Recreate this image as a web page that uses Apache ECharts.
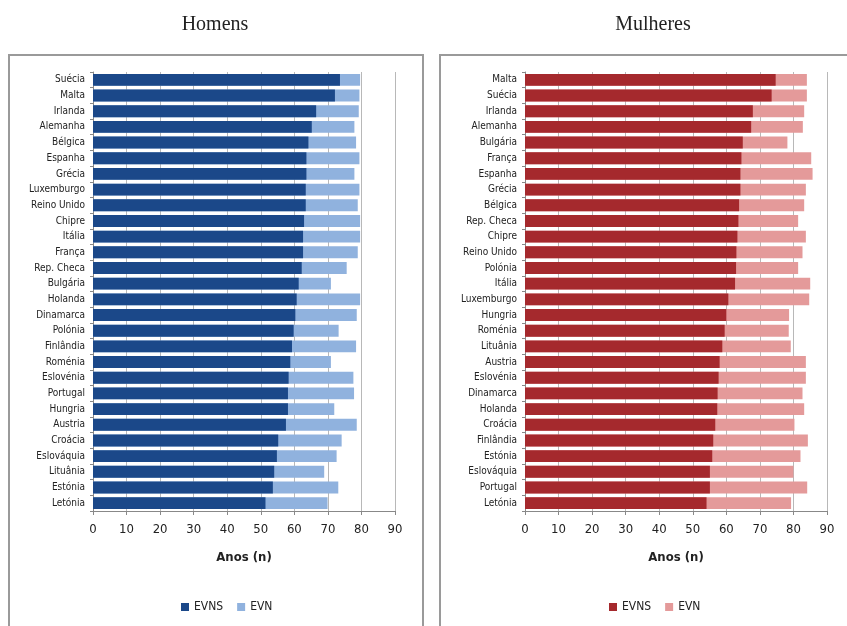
<!DOCTYPE html>
<html><head><meta charset="utf-8">
<script src="https://cdn.jsdelivr.net/npm/echarts@6/dist/echarts.min.js"></script>
<style>html,body{margin:0;padding:0;background:#fff}#c{width:847px;height:626px}</style>
</head><body><div id="c"></div>
<script>
const menCats = ['Suécia','Malta','Irlanda','Alemanha','Bélgica','Espanha','Grécia','Luxemburgo','Reino Unido','Chipre','Itália','França','Rep. Checa','Bulgária','Holanda','Dinamarca','Polónia','Finlândia','Roménia','Eslovénia','Portugal','Hungria','Austria','Croácia','Eslováquia','Lituânia','Estónia','Letónia'];
const menEVNS = [73.6,72.1,66.5,65.2,64.2,63.6,63.6,63.4,63.4,62.9,62.6,62.6,62.2,61.3,60.7,60.3,59.8,59.3,58.8,58.3,58.1,58.1,57.5,55.2,54.8,54.0,53.6,51.4];
const menEVN  = [79.6,79.4,79.2,77.9,78.4,79.4,77.9,79.4,78.9,79.6,79.6,78.9,75.6,70.9,79.6,78.6,73.2,78.4,70.9,77.6,77.8,71.9,78.6,74.1,72.6,68.9,73.1,69.9];
const womenCats = ['Malta','Suécia','Irlanda','Alemanha','Bulgária','França','Espanha','Grécia','Bélgica','Rep. Checa','Chipre','Reino Unido','Polónia','Itália','Luxemburgo','Hungria','Roménia','Lituânia','Austria','Eslovénia','Dinamarca','Holanda','Croácia','Finlândia','Estónia','Eslováquia','Portugal','Letónia'];
const womenEVNS = [74.7,73.5,67.9,67.4,64.9,64.5,64.2,64.2,63.8,63.6,63.3,63.0,62.9,62.6,60.6,60.0,59.5,58.8,58.0,57.7,57.4,57.3,56.7,56.1,55.8,55.1,55.1,54.1];
const womenEVN  = [84.0,84.0,83.2,82.8,78.2,85.3,85.7,83.7,83.2,81.4,83.7,82.7,81.4,85.0,84.7,78.7,78.6,79.2,83.7,83.7,82.7,83.2,80.3,84.3,82.1,80.0,84.1,79.3];
const xTicks = [0,10,20,30,40,50,60,70,80,90];

const C = {bd:'#1b4889', bl:'#90b2de', rd:'#a5292d', rl:'#e49a9a'};
const labelFont = 'DejaVu Sans Condensed';

function xAxis(gi){
  return {type:'value', gridIndex:gi, min:xTicks[0], max:xTicks[xTicks.length-1], interval:10,
    name:'Anos (n)', nameLocation:'middle', nameGap:40,
    nameTextStyle:{fontFamily:labelFont, fontWeight:'bold', fontSize:13, color:'#222'},
    axisLine:{show:true, lineStyle:{color:'#888'}}, axisTick:{show:true, length:4, lineStyle:{color:'#888'}},
    axisLabel:{fontFamily:labelFont, fontSize:13, color:'#222', margin:12},
    splitLine:{show:true, lineStyle:{color:'#b8b8b8', width:1}}};
}
function yAxis(gi, cats){
  return {type:'category', gridIndex:gi, data:cats, inverse:true,
    axisLine:{show:true, lineStyle:{color:'#888'}},
    axisTick:{show:true, length:3, lineStyle:{color:'#888'}},
    axisLabel:{fontFamily:labelFont, fontSize:10, color:'#222', margin:8}};
}
function bars(gi, name, data, color, z){
  return {type:'bar', name:name, xAxisIndex:gi, yAxisIndex:gi, data:data, barWidth:'76%', barGap:'-100%',
    itemStyle:{color:color}, z:z, silent:true};
}
const chart = echarts.init(document.getElementById('c'));
chart.setOption({
  animation:false,
  backgroundColor:'#fff',
  title:[
    {text:'Homens', left:210, top:10, textAlign:'center', textStyle:{fontFamily:'Liberation Serif', fontWeight:'normal', fontSize:20, color:'#222'}},
    {text:'Mulheres', left:648, top:10, textAlign:'center', textStyle:{fontFamily:'Liberation Serif', fontWeight:'normal', fontSize:20, color:'#222'}}
  ],
  graphic:[
    {type:'rect', shape:{x:9, y:55, width:414, height:590}, style:{fill:'#fff', stroke:'#9a9a9a', lineWidth:2}, z:-10},
    {type:'rect', shape:{x:440, y:55, width:414, height:590}, style:{fill:'#fff', stroke:'#9a9a9a', lineWidth:2}, z:-10}
  ],
  grid:[
    {left:93, width:302, top:72, height:439, containLabel:false},
    {left:525, width:302, top:72, height:439, containLabel:false}
  ],
  xAxis:[xAxis(0), xAxis(1)],
  yAxis:[yAxis(0, menCats), yAxis(1, womenCats)],
  legend:[
    {left:176, top:596, itemWidth:8, itemHeight:8, itemGap:14, icon:'rect',
     textStyle:{fontFamily:labelFont, fontSize:12, color:'#222'},
     data:[{name:'EVNS', itemStyle:{color:C.bd}},{name:'EVN', itemStyle:{color:C.bl}}], selectedMode:false},
    {left:604, top:596, itemWidth:8, itemHeight:8, itemGap:14, icon:'rect',
     textStyle:{fontFamily:labelFont, fontSize:12, color:'#222'},
     data:[{name:'EVNS', itemStyle:{color:C.rd}},{name:'EVN', itemStyle:{color:C.rl}}], selectedMode:false}
  ],
  series:[
    bars(0,'EVN',menEVN,C.bl,2),
    bars(0,'EVNS',menEVNS,C.bd,3),
    bars(1,'EVN',womenEVN,C.rl,2),
    bars(1,'EVNS',womenEVNS,C.rd,3)
  ]
});
</script></body></html>
